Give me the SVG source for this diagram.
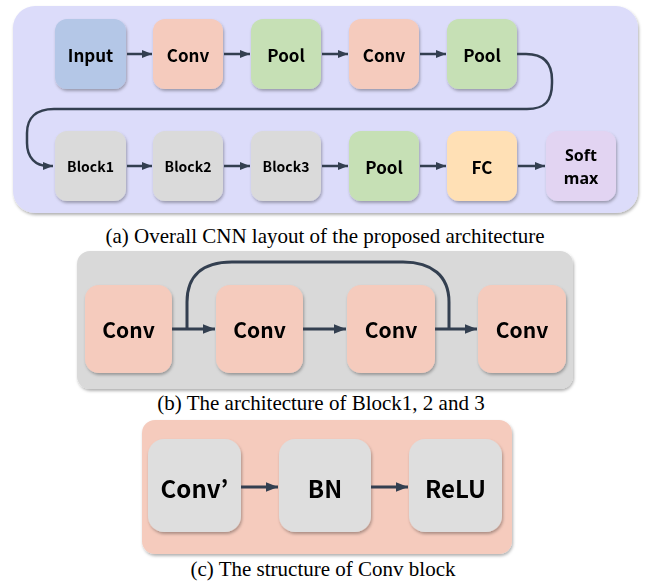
<svg xmlns="http://www.w3.org/2000/svg" width="650" height="585" viewBox="0 0 650 585">
<defs>
<filter id="sh" x="-20%" y="-20%" width="140%" height="150%">
<feDropShadow dx="1" dy="2" stdDeviation="1.6" flood-color="#000" flood-opacity="0.3"/>
</filter>
<marker id="ah" viewBox="0 0 10 10" refX="10" refY="5" markerWidth="4" markerHeight="4" orient="auto" markerUnits="strokeWidth">
<path d="M0,1 L10,5 L0,9 Z" fill="#333f50"/>
</marker>
</defs>
<style>
.conn{fill:none;stroke:#333f50;stroke-width:2.5}
.conn3{fill:none;stroke:#333f50;stroke-width:3}
.arr{marker-end:url(#ah)}
.lbl{font-family:"Noto Sans CJK KR","Noto Sans",sans-serif;font-weight:bold;fill:#000;text-anchor:middle;dominant-baseline:central}
.lbl2{font-family:"Noto Sans",sans-serif;font-weight:bold;fill:#000;text-anchor:middle;dominant-baseline:central}
.cap{font-family:"Liberation Serif",serif;font-size:21px;fill:#000;text-anchor:middle}
.box{filter:url(#sh)}
</style>
<rect x="0" y="0" width="650" height="585" fill="#fff"/>

<!-- Panel a -->
<g id="panel-a">
<rect x="13" y="6" width="625" height="207" rx="22" fill="#dcdcfa" filter="url(#sh)"/>
</g>
<g id="a-input" class="box"><rect x="55" y="19" width="71" height="70" rx="12" fill="#b4c7e7"/><text class="lbl" x="90.5" y="54" font-size="17">Input</text></g>
<g id="a-conv1" class="box"><rect x="153" y="19" width="70" height="70" rx="12" fill="#f5cbbd"/><text class="lbl" x="188" y="54" font-size="17">Conv</text></g>
<g id="a-pool1" class="box"><rect x="251" y="19" width="70" height="70" rx="12" fill="#c6e0b5"/><text class="lbl" x="286" y="54" font-size="17">Pool</text></g>
<g id="a-conv2" class="box"><rect x="349" y="19" width="70" height="70" rx="12" fill="#f5cbbd"/><text class="lbl" x="384" y="54" font-size="17">Conv</text></g>
<g id="a-pool2" class="box"><rect x="447" y="19" width="70" height="70" rx="12" fill="#c6e0b5"/><text class="lbl" x="482" y="54" font-size="17">Pool</text></g>
<g id="a-block1" class="box"><rect x="55" y="131" width="71" height="70" rx="12" fill="#dadada"/><text class="lbl" x="90.5" y="166" font-size="14">Block1</text></g>
<g id="a-block2" class="box"><rect x="153" y="131" width="70" height="70" rx="12" fill="#dadada"/><text class="lbl" x="188" y="166" font-size="14">Block2</text></g>
<g id="a-block3" class="box"><rect x="251" y="131" width="70" height="70" rx="12" fill="#dadada"/><text class="lbl" x="286" y="166" font-size="14">Block3</text></g>
<g id="a-pool3" class="box"><rect x="349" y="131" width="70" height="70" rx="12" fill="#c6e0b5"/><text class="lbl" x="384" y="166" font-size="17">Pool</text></g>
<g id="a-fc" class="box"><rect x="447" y="131" width="70" height="70" rx="12" fill="#ffe0b5"/><text class="lbl" x="482" y="166" font-size="17">FC</text></g>
<g id="a-softmax" class="box"><rect x="546" y="131" width="70" height="70" rx="12" fill="#e2d4f2"/><text class="lbl2" x="581" y="154.5" font-size="16">Soft</text><text class="lbl2" x="581" y="177.5" font-size="16">max</text></g>

<g id="a-connectors">
<line class="conn arr" x1="127" y1="54" x2="152" y2="54"/>
<line class="conn arr" x1="224" y1="54" x2="250" y2="54"/>
<line class="conn arr" x1="322" y1="54" x2="348" y2="54"/>
<line class="conn arr" x1="420" y1="54" x2="446" y2="54"/>
<path class="conn arr" d="M517 54 H526 C545 54 552 64 552 80 V83 C552 101 545 109 527 109 H54 C36 109 27 118 27 133 V143 C27 158 36 166 48 166 H53"/>
<line class="conn arr" x1="127" y1="166" x2="152" y2="166"/>
<line class="conn arr" x1="224" y1="166" x2="250" y2="166"/>
<line class="conn arr" x1="322" y1="166" x2="348" y2="166"/>
<line class="conn arr" x1="420" y1="166" x2="446" y2="166"/>
<line class="conn arr" x1="518" y1="166" x2="545" y2="166"/>
</g>
<text class="cap" x="325" y="243">(a) Overall CNN layout of the proposed architecture</text>

<!-- Panel b -->
<g id="panel-b"><rect x="77" y="251" width="496" height="138" rx="13" fill="#d9d9d9" filter="url(#sh)"/></g>
<g id="b-conv1" class="box"><rect x="85" y="285" width="87" height="88" rx="14" fill="#f5cbbd"/><text class="lbl" x="128.5" y="329" font-size="21">Conv</text></g>
<g id="b-conv2" class="box"><rect x="216" y="285" width="87" height="88" rx="14" fill="#f5cbbd"/><text class="lbl" x="259.5" y="329" font-size="21">Conv</text></g>
<g id="b-conv3" class="box"><rect x="347" y="285" width="88" height="88" rx="14" fill="#f5cbbd"/><text class="lbl" x="391" y="329" font-size="21">Conv</text></g>
<g id="b-conv4" class="box"><rect x="478" y="285" width="88" height="88" rx="14" fill="#f5cbbd"/><text class="lbl" x="522" y="329" font-size="21">Conv</text></g>
<g id="b-connectors">
<line class="conn3 arr" x1="172" y1="329" x2="215" y2="329"/>
<line class="conn3 arr" x1="303" y1="329" x2="346" y2="329"/>
<line class="conn3 arr" x1="435" y1="329" x2="477" y2="329"/>
<path class="conn3" d="M187 329 V302 C187 276 202 262 232 262 H403 C432 262 449 276 449 302 V329"/>
</g>
<text class="cap" x="321" y="410">(b) The architecture of Block1, 2 and 3</text>

<!-- Panel c -->
<g id="panel-c"><rect x="142" y="420" width="370" height="134" rx="13" fill="#f5cbbd" filter="url(#sh)"/></g>
<g id="c-convp" class="box"><rect x="148" y="439" width="93" height="93" rx="16" fill="#dedede"/><text class="lbl" x="194.5" y="487" font-size="24">Conv’</text></g>
<g id="c-bn" class="box"><rect x="279" y="439" width="92" height="93" rx="16" fill="#dedede"/><text class="lbl" x="325" y="487" font-size="24">BN</text></g>
<g id="c-relu" class="box"><rect x="409" y="439" width="93" height="93" rx="16" fill="#dedede"/><text class="lbl" x="455.5" y="487" font-size="24">ReLU</text></g>
<g id="c-connectors">
<line class="conn3 arr" x1="241" y1="487" x2="278" y2="487"/>
<line class="conn3 arr" x1="371" y1="487" x2="408" y2="487"/>
</g>
<text class="cap" x="323" y="576">(c) The structure of Conv block</text>
</svg>
